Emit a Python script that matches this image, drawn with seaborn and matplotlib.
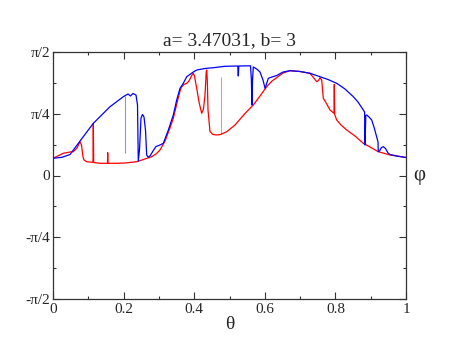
import numpy as np
import pandas as pd
import matplotlib
matplotlib.use("Agg")
import matplotlib.pyplot as plt
import matplotlib.transforms as mtransforms
from matplotlib.ticker import MultipleLocator
import seaborn as sns

# ---- data (phi given in units of pi) ----
title = "a= 3.47031, b= 3"

blue_theta = [0.0, 0.0255, 0.0482, 0.0858, 0.1142, 0.1615, 0.1992, 0.2125, 0.2195, 0.2266, 0.2351,
              0.2394, 0.2416, 0.2450, 0.2493, 0.2535, 0.2578, 0.2620, 0.2654, 0.2691, 0.2748,
              0.2833, 0.2918, 0.3031, 0.3125, 0.3258, 0.3408, 0.3504, 0.3598, 0.3691, 0.3788,
              0.3975, 0.4071, 0.4306, 0.4541, 0.4873, 0.5235, 0.5249, 0.5263, 0.5595, 0.5620,
              0.5635, 0.5652, 0.5674, 0.5771, 0.5864, 0.5949, 0.6006, 0.6048, 0.6099, 0.6204,
              0.6337, 0.6516, 0.6714, 0.6997, 0.7280, 0.7564, 0.7790, 0.8037, 0.8272, 0.8507,
              0.8640, 0.8790, 0.8827, 0.8839, 0.8861, 0.8887, 0.8952, 0.9028, 0.9093, 0.9170,
              0.9207, 0.9215, 0.9249, 0.9306, 0.9357, 0.9419, 0.9490, 0.9547, 0.9737, 1.0]
blue_phi = [0.0696, 0.0737, 0.0850, 0.1571, 0.2113, 0.2785, 0.3190, 0.3300, 0.3219, 0.3320, 0.3259,
            0.2854, 0.0587, 0.1032, 0.2328, 0.2470, 0.2368, 0.1842, 0.0830, 0.0749, 0.0789,
            0.0992, 0.1174, 0.1235, 0.1304, 0.1802, 0.2449, 0.3057, 0.3530, 0.3733, 0.4000,
            0.4190, 0.4271, 0.4332, 0.4364, 0.4421, 0.4433, 0.4028, 0.4433, 0.4441, 0.3866,
            0.2854, 0.3866, 0.4393, 0.4312, 0.4190, 0.3866, 0.3530, 0.3704, 0.3935, 0.3988,
            0.4049, 0.4190, 0.4243, 0.4211, 0.4138, 0.4000, 0.3887, 0.3733, 0.3502, 0.3190,
            0.2976, 0.2652, 0.2571, 0.1235, 0.2429, 0.2449, 0.2368, 0.2247, 0.1964, 0.1559,
            0.1356, 0.0964, 0.0992, 0.1134, 0.1166, 0.1093, 0.0911, 0.0850, 0.0789, 0.0729]

red_theta = [0.0, 0.0292, 0.0482, 0.0575, 0.0680, 0.0765, 0.0807, 0.0850, 0.0878, 0.0963,
             0.1133, 0.1142, 0.1153, 0.1331, 0.1544, 0.1550, 0.1555, 0.1805, 0.2040, 0.2371,
             0.2606, 0.2796, 0.2918, 0.3031, 0.3173, 0.3314, 0.3408, 0.3513, 0.3598, 0.3646,
             0.3711, 0.3788, 0.3839, 0.3881, 0.3938, 0.3975, 0.4008, 0.4071, 0.4136, 0.4212,
             0.4263, 0.4306, 0.4340, 0.4354, 0.4371, 0.4391, 0.4448, 0.4533, 0.4637, 0.4745,
             0.4921, 0.5156, 0.5439, 0.5674, 0.5864, 0.6054, 0.6204, 0.6382, 0.6516, 0.6714,
             0.6997, 0.7280, 0.7365, 0.7470, 0.7521, 0.7564, 0.7612, 0.7657, 0.7754, 0.7847,
             0.7960, 0.7969, 0.7980, 0.8037, 0.8159, 0.8320, 0.8555, 0.8790, 0.8980, 0.9215,
             0.9547, 0.9737, 1.0]
red_phi = [0.0696, 0.0899, 0.0951, 0.0964, 0.1113, 0.1368, 0.1235, 0.0749, 0.0628, 0.0555,
           0.0534, 0.2113, 0.0526, 0.0494, 0.0494, 0.0923, 0.0494, 0.0494, 0.0506, 0.0559,
           0.0668, 0.0761, 0.0870, 0.1032, 0.1397, 0.1923, 0.2316, 0.2935, 0.3421, 0.3595,
           0.3684, 0.3733, 0.3806, 0.3907, 0.4069, 0.4138, 0.4028, 0.3530, 0.2976, 0.2518,
           0.2692, 0.3259, 0.4190, 0.4271, 0.3866, 0.2652, 0.1773, 0.1660, 0.1640, 0.1660,
           0.1773, 0.2045, 0.2510, 0.2854, 0.3219, 0.3595, 0.3826, 0.4008, 0.4150, 0.4243,
           0.4211, 0.4138, 0.3988, 0.3798, 0.3846, 0.3960, 0.3866, 0.3126, 0.2895, 0.2652,
           0.2518, 0.3692, 0.2470, 0.2247, 0.2045, 0.1842, 0.1599, 0.1304, 0.1154, 0.0964,
           0.0830, 0.0789, 0.0729]

# faint (sparsely sampled) vertical streaks
blue_streak_theta = [0.2040]
blue_streak_lo = [0.0911]
blue_streak_hi = [0.3219]
red_streak_theta = [0.4751]
red_streak_lo = [0.1660]
red_streak_hi = [0.4000]

xtick_vals = [0, 0.2, 0.4, 0.6, 0.8, 1.0]
xtick_labels = ["0", "0.2", "0.4", "0.6", "0.8", "1"]
ytick_vals = [-0.5, -0.25, 0.0, 0.25, 0.5]   # units of pi
ytick_labels = ["-π/2", "-π/4", "0", "π/4", "π/2"]

# ---- plotting ----
sns.set_style("ticks")
plt.rcParams['font.family'] = ['Liberation Serif', 'DejaVu Serif']

red_df = pd.DataFrame({"theta": red_theta, "phi": np.array(red_phi) * np.pi})
blue_df = pd.DataFrame({"theta": blue_theta, "phi": np.array(blue_phi) * np.pi})

fig = plt.figure(figsize=(4.57, 3.53), dpi=100)
ax = fig.add_axes([53 / 457, 1 - 299 / 353, (406 - 53) / 457, (299 - 52) / 353])

sns.lineplot(data=red_df, x="theta", y="phi", sort=False, estimator=None,
             color="#ff0000", lw=0.9, ax=ax)
ax.vlines(red_streak_theta, np.array(red_streak_lo) * np.pi, np.array(red_streak_hi) * np.pi,
          color="#ff0000", lw=0.8, alpha=0.45)
sns.lineplot(data=blue_df, x="theta", y="phi", sort=False, estimator=None,
             color="#0000ff", lw=0.9, ax=ax)
ax.vlines(blue_streak_theta, np.array(blue_streak_lo) * np.pi, np.array(blue_streak_hi) * np.pi,
          color="#0000ff", lw=0.8, alpha=0.45)

ax.set_xlim(0, 1)
ax.set_ylim(-np.pi / 2, np.pi / 2)
ax.set_xticks(xtick_vals)
ax.set_xticklabels(xtick_labels)
ax.set_yticks(np.array(ytick_vals) * np.pi)
ax.set_yticklabels(ytick_labels)
ax.xaxis.set_minor_locator(MultipleLocator(0.1))
ax.yaxis.set_minor_locator(MultipleLocator(np.pi / 8))
ax.tick_params(which="both", direction="in", top=True, right=True, labelsize=11,
               color="#333333", width=0.8)
ax.tick_params(which="major", length=5)
ax.tick_params(which="minor", length=2.5)
ax.tick_params(axis="x", pad=3)
ax.tick_params(axis="y", pad=2)
for s in ax.spines.values():
    s.set_color("#333333")
    s.set_linewidth(0.9)

ax.set_xlabel("θ", fontsize=14, labelpad=0)
ax.set_ylabel("")
ax.set_title(title, fontsize=14, pad=5)
trans = mtransforms.blended_transform_factory(ax.transAxes, ax.transData)
ax.text(1.02, 0.0, "φ", transform=trans, fontsize=15, ha="left", va="center")

fig.savefig("out.png", dpi=100)
